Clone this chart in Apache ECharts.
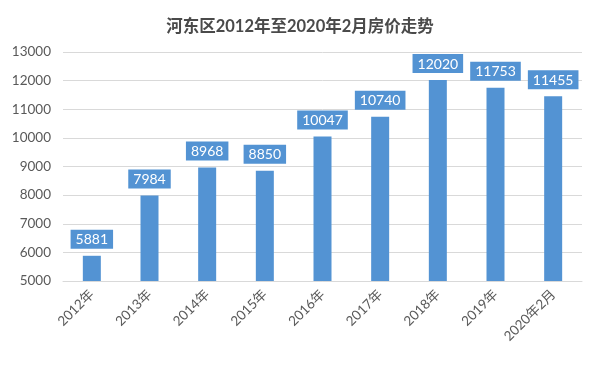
<!DOCTYPE html>
<html><head><meta charset="utf-8">
<script src="https://cdn.jsdelivr.net/npm/echarts@6/dist/echarts.min.js"></script>
<style>html,body{margin:0;padding:0;background:#fff}#c{width:600px;height:370px}</style>
</head><body><div id="c"></div>
<script>
const title = '河东区2012年至2020年2月房价走势';
const categories = ['2012年','2013年','2014年','2015年','2016年','2017年','2018年','2019年','2020年2月'];
const prices = [5881, 7984, 8968, 8850, 10047, 10740, 12020, 11753, 11455];
const yTicks = {min: 5000, max: 13000, interval: 1000};

const chart = echarts.init(document.getElementById('c'));
chart.setOption({
  animation: false,
  title: {
    text: title, left: 'center', top: 13,
    textStyle: {fontFamily: 'Lato, "Noto Sans CJK SC", serif', fontSize: 16.5, fontWeight: 'bold', color: '#4a4a4a'}
  },
  grid: {left: 63, right: 18, top: 52, bottom: 89},
  xAxis: {
    type: 'category', data: categories,
    axisLine: {lineStyle: {color: '#d9d9d9'}},
    axisTick: {show: false},
    axisLabel: {rotate: 45, color: '#595959', fontSize: 13.5, fontFamily: 'Lato, "Noto Sans CJK SC", sans-serif', margin: 11, interval: 0}
  },
  yAxis: {
    type: 'value', min: yTicks.min, max: yTicks.max, interval: yTicks.interval,
    axisLine: {show: false}, axisTick: {show: false},
    splitLine: {lineStyle: {color: '#d9d9d9'}},
    axisLabel: {color: '#595959', fontSize: 13.5, fontFamily: 'Lato, sans-serif', margin: 12, formatter: v => String(v)}
  },
  series: [{
    type: 'bar', data: prices, barWidth: 18,
    itemStyle: {color: '#5393D3'},
    label: {
      show: true, position: 'top', distance: 7,
      color: '#fff', fontSize: 14, fontFamily: 'Lato, "Open Sans", sans-serif',
      backgroundColor: '#5393D3', padding: [3, 5, 2, 5]
    }
  }]
});
</script></body></html>
